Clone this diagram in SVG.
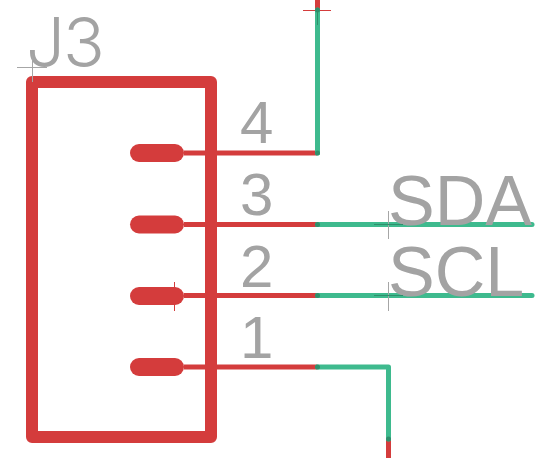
<svg xmlns="http://www.w3.org/2000/svg" width="556" height="458" viewBox="0 0 556 458">
<style>
.red{fill:none;stroke:#d43c3c;stroke-width:5}
.net{fill:none;stroke:#3eba8e;stroke-width:5;stroke-linecap:round;stroke-linejoin:round}
.body{fill:none;stroke:#d43c3c;stroke-width:12;stroke-linejoin:round}
.pad{fill:#d43c3c}
.lbl{font-family:"Liberation Sans",Arial,sans-serif;fill:#a3a3a3}
.pin{font-size:60px}
.sig{font-size:70px}
.ref{font-family:"Inter",sans-serif;font-weight:300;font-size:69px;fill:#a3a3a3}
.xg{stroke:#a6a6a6;stroke-width:1;fill:none}
.xr{stroke:#d43c3c;stroke-width:1;fill:none}
.xd{stroke:#2f8f6c;stroke-width:1;fill:none}
.dot{fill:#2f8f6c}
</style>
<g id="J3">
<rect class="body" x="32" y="82" width="179" height="355"/>
<text class="ref" x="26 63" y="67">J3</text>
<path class="xg" d="M17 67.500H47M32.500 54V82"/>
<g id="pin4"><rect class="pad" x="130" y="144" width="54" height="18" rx="9"/><path class="red" d="M184 153H317"/><text class="lbl pin" x="240" y="143">4</text></g>
<g id="pin3"><rect class="pad" x="130" y="215.500" width="54" height="18" rx="9"/><path class="red" d="M184 224.500H317"/><text class="lbl pin" x="240" y="215">3</text></g>
<g id="pin2"><rect class="pad" x="130" y="287" width="54" height="18" rx="9"/><path class="red" d="M184 295.500H317"/><text class="lbl pin" x="240" y="287">2</text><path class="xr" d="M174.500 282V311"/></g>
<g id="pin1"><rect class="pad" x="130" y="358" width="54" height="18" rx="9"/><path class="red" d="M184 367H317"/><text class="lbl pin" x="240" y="358">1</text></g>
</g>
<g id="connectors">
<path class="red" d="M317.500 0V10"/>
<path class="red" d="M388.500 439V458"/>
<path class="net" d="M317.500 10V153"/>
<path class="net" d="M317.500 224.500H532"/>
<path class="net" d="M317.500 295.500H532"/>
<path class="net" d="M317.500 367H388.500V439"/>
<path class="xr" d="M303 10.500H331"/>
<path class="xd" d="M317.500 10V25"/>
<circle class="dot" cx="317.500" cy="10" r="2.500"/>
<circle class="dot" cx="317.500" cy="153" r="2.500"/>
<circle class="dot" cx="317.500" cy="224.500" r="2.500"/>
<circle class="dot" cx="317.500" cy="295.500" r="2.500"/>
<circle class="dot" cx="317.500" cy="367" r="2.500"/>
<circle class="dot" cx="388.500" cy="439" r="2.500"/>
</g>
<g id="SDA"><text class="lbl sig" x="388" y="225">SDA</text><path class="xg" d="M388.500 211V239"/><path class="xd" d="M374 224.500H403"/></g>
<g id="SCL"><text class="lbl sig" x="388" y="296">SCL</text><path class="xg" d="M388.500 282V311"/><path class="xd" d="M374 295.500H403"/></g>
</svg>
